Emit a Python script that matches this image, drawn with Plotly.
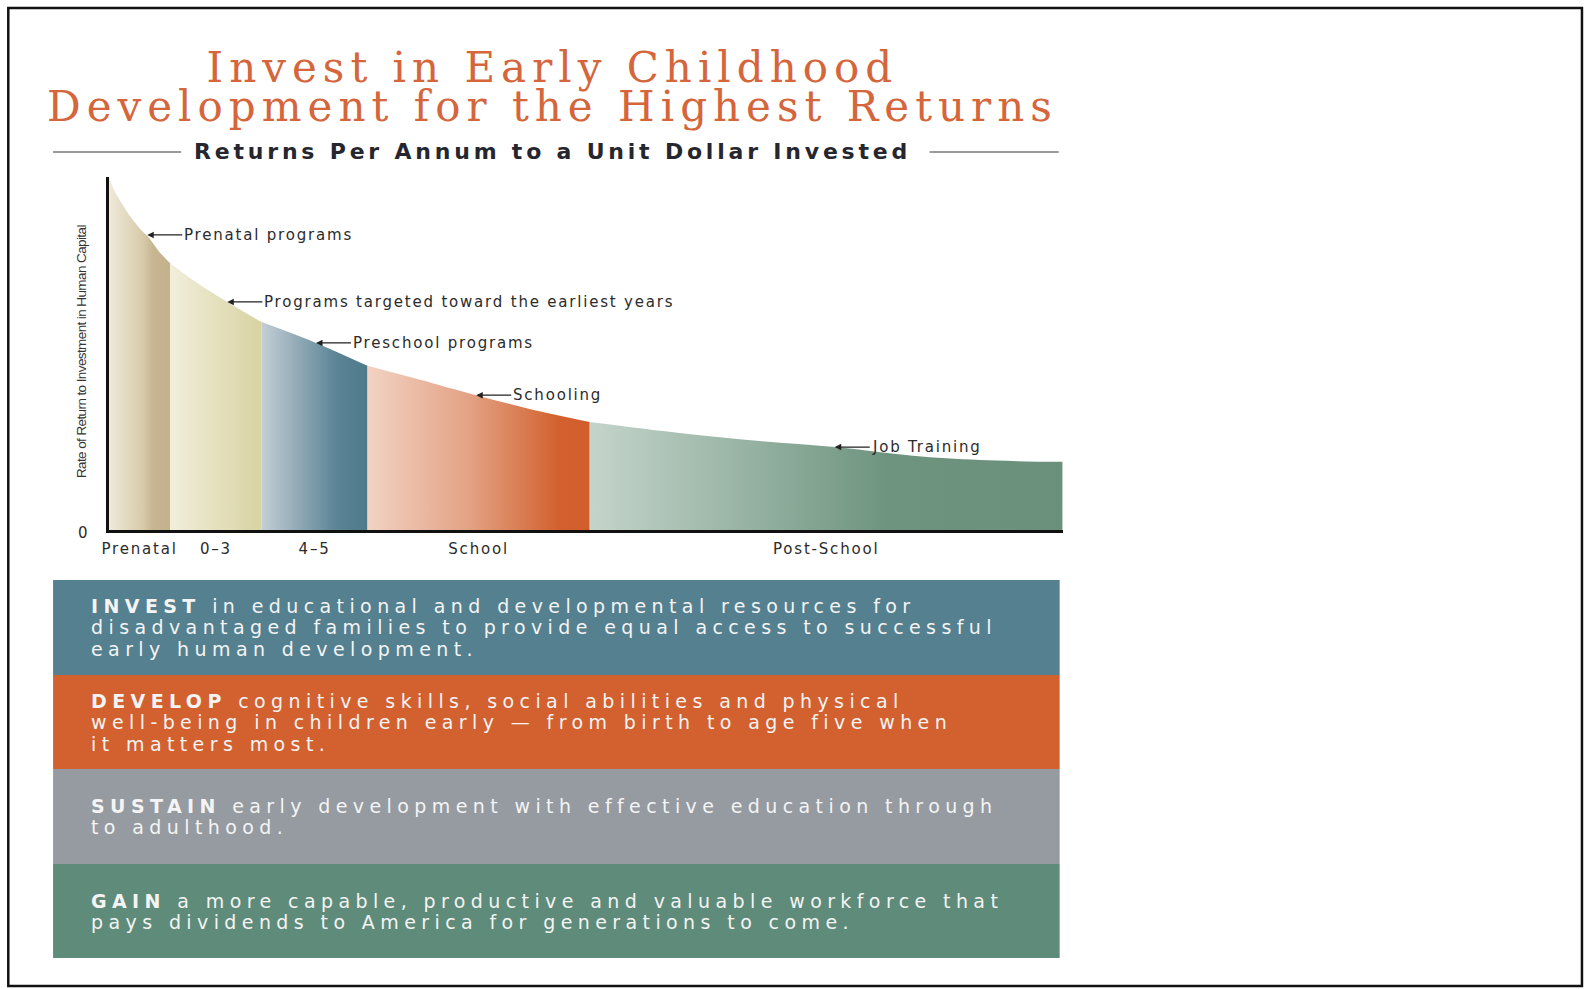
import plotly.graph_objects as go

W, H = 1585, 989

# ---------------- data ----------------
curve_x = [0, 0.2, 0.6, 1.3, 2.1, 3.1, 4.2, 5.2, 6.4, 9.4, 12.4, 16.0, 21.7, 27.1, 33.9, 38.5,
           44.1, 50.4, 59.8, 68.2, 76.1, 84.3, 91.3, 100]
curve_y = [100, 98.3, 95.8, 92.6, 89.2, 85.8, 82.7, 79.0, 75.6, 69.7, 64.6, 58.9, 53.0, 46.5,
           41.6, 38.2, 34.3, 30.6, 27.5, 25.2, 23.5, 21.0, 19.8, 19.3]

stages = ["Prenatal", "0\u20133", "4\u20135", "School", "Post-School"]
stage_bounds = [0, 6.4, 16.0, 27.1, 50.4, 100]

program_labels = ["Prenatal programs", "Programs targeted toward the earliest years",
                  "Preschool programs", "Schooling", "Job Training"]
program_x = [4.0, 12.4, 21.7, 38.5, 76.1]
program_y = [83.6, 64.6, 53.0, 38.2, 23.5]

zero_label = "0"
title_lines = ["Invest in Early Childhood", "Development for the Highest Returns"]
subtitle = "Returns Per Annum to a Unit Dollar Invested"
y_title = "Rate of Return to Investment in Human Capital"

box_heads = ["INVEST", "DEVELOP", "SUSTAIN", "GAIN"]
box_lines = [
    ["in educational and developmental resources for",
     "disadvantaged families to provide equal access to successful",
     "early human development."],
    ["cognitive skills, social abilities and physical",
     "well-being in children early \u2014 from birth to age five when",
     "it matters most."],
    ["early development with effective education through",
     "to adulthood."],
    ["a more capable, productive and valuable workforce that",
     "pays dividends to America for generations to come."],
]

# ---------------- styles ----------------
stage_scales = [
    [[0, "#EFE9DA"], [0.55, "#D8CBAA"], [0.72, "#C6B590"], [1, "#C3B28C"]],
    [[0, "#F1EEDB"], [1, "#D8D3A1"]],
    [[0, "#C3CDD5"], [0.7, "#5B8495"], [1, "#4E7A8A"]],
    [[0, "#F2D2C3"], [0.45, "#E3A284"], [0.85, "#D3612F"], [1, "#D15D2B"]],
    [[0, "#C4D4CA"], [0.62, "#6E947F"], [1, "#6A8F7B"]],
]
box_colors = ["#54808F", "#D3602F", "#959BA1", "#5F8B7A"]
TITLE_C = "#D5653A"
LABEL_C = "#2b2b2b"

# page-placement compensation (measured: canvas shows shifted right ~8px, scaled ~0.995 horizontally)
KX, KY, OFF = 0.995, 1.0, 8.0


def X(p):
    return min(max((p / KX - OFF) / W, 0), 1)


def Y(p):
    return min(max(1 - (p / KY) / H, 0), 1)


def sp(text, ls, size=None):
    st = f"letter-spacing:{ls}px"
    if size:
        st += f";font-size:{size}px"
    return f'<span style="{st}">{text}</span>'


fig = go.Figure()

for i in range(len(stages)):
    a, b = stage_bounds[i], stage_bounds[i + 1]
    xs = [x for x in curve_x if a <= x <= b]
    ys = [y for x, y in zip(curve_x, curve_y) if a <= x <= b]
    fig.add_trace(go.Scatter(
        x=xs, y=ys, mode="lines",
        line=dict(width=0, shape="spline", smoothing=1),
        fill="tozeroy",
        fillgradient=dict(type="horizontal", colorscale=stage_scales[i], start=a, stop=b),
        hoverinfo="skip", showlegend=False,
    ))

mids = [(stage_bounds[i] + stage_bounds[i + 1]) / 2 for i in range(len(stages))]

fig.update_layout(
    width=W, height=H, autosize=False,
    margin=dict(l=0, r=0, t=0, b=0),
    paper_bgcolor="white", plot_bgcolor="white",
    showlegend=False,
    xaxis=dict(domain=[X(110), X(1063)], range=[0, 100], showgrid=False, zeroline=False,
               showline=True, linewidth=3, linecolor="#111",
               tickmode="array", tickvals=mids, ticktext=[sp(s, 1.8) for s in stages],
               ticks="", ticklabelstandoff=3,
               tickfont=dict(family="DejaVu Sans", size=15, color=LABEL_C), fixedrange=True),
    yaxis=dict(domain=[Y(530), Y(177)], range=[0, 100], showgrid=False, zeroline=False,
               showline=True, linewidth=3, linecolor="#111",
               showticklabels=False, ticks="", fixedrange=True),
)

# "0" origin label
fig.add_annotation(x=X(84), y=Y(533), xref="paper", yref="paper", text=zero_label,
                   showarrow=False, xanchor="center", yanchor="middle",
                   font=dict(family="DejaVu Sans", size=15, color=LABEL_C))

for lab, x, y in zip(program_labels, program_x, program_y):
    fig.add_annotation(x=x, y=y, xref="x", yref="y", text=sp(lab, 1.8),
                       showarrow=True, arrowhead=2, arrowsize=1, arrowwidth=1.3, arrowcolor="#222",
                       ax=35, ay=0, xanchor="left", yanchor="middle",
                       font=dict(family="DejaVu Sans", size=15, color=LABEL_C))

fig.add_annotation(x=X(83), y=Y(352), xref="paper", yref="paper", text=sp(y_title, -0.6),
                   showarrow=False, textangle=-90, xanchor="center", yanchor="middle",
                   font=dict(family="Liberation Sans", size=13.5, color="#333"))

fig.add_annotation(x=X(553), y=Y(86.5), xref="paper", yref="paper",
                   text="<br>".join(sp(t, 6, 42) for t in title_lines),
                   showarrow=False, xanchor="center", yanchor="middle",
                   font=dict(family="DejaVu Serif", size=30, color=TITLE_C))
fig.add_annotation(x=X(553), y=Y(151), xref="paper", yref="paper",
                   text="<b>" + sp(subtitle, 3.8) + "</b>",
                   showarrow=False, xanchor="center", yanchor="middle",
                   font=dict(family="DejaVu Sans", size=22, color="#26262e"))
for x0, x1 in [(54, 182), (930, 1059)]:
    fig.add_shape(type="line", xref="paper", yref="paper", x0=X(x0), x1=X(x1),
                  y0=Y(152), y1=Y(152), line=dict(color="#777", width=1.5))

box_edges = [580, 675, 769, 864, 958]
for i in range(4):
    y0, y1 = box_edges[i], box_edges[i + 1]
    fig.add_shape(type="rect", xref="paper", yref="paper", x0=X(54), x1=X(1060),
                  y0=Y(y1), y1=Y(y0), line=dict(width=0), fillcolor=box_colors[i], layer="below")
    parts = []
    for j, ln in enumerate(box_lines[i]):
        txt = ("<b>" + box_heads[i] + "</b> " + ln) if j == 0 else ln
        parts.append(sp(txt, 5.4, 19))
    fig.add_annotation(x=X(90), y=Y((y0 + y1) / 2), xref="paper", yref="paper",
                       text="<br>".join(parts), align="left",
                       showarrow=False, xanchor="left", yanchor="middle",
                       font=dict(family="DejaVu Sans", size=16.5, color="#F4F4F4"))

# outer frame
fig.add_shape(type="rect", xref="paper", yref="paper", x0=1.3 / W, x1=X(1582),
              y0=Y(986), y1=Y(8), line=dict(color="#111", width=2.5),
              fillcolor="rgba(0,0,0,0)")

fig.write_html("out.html")
